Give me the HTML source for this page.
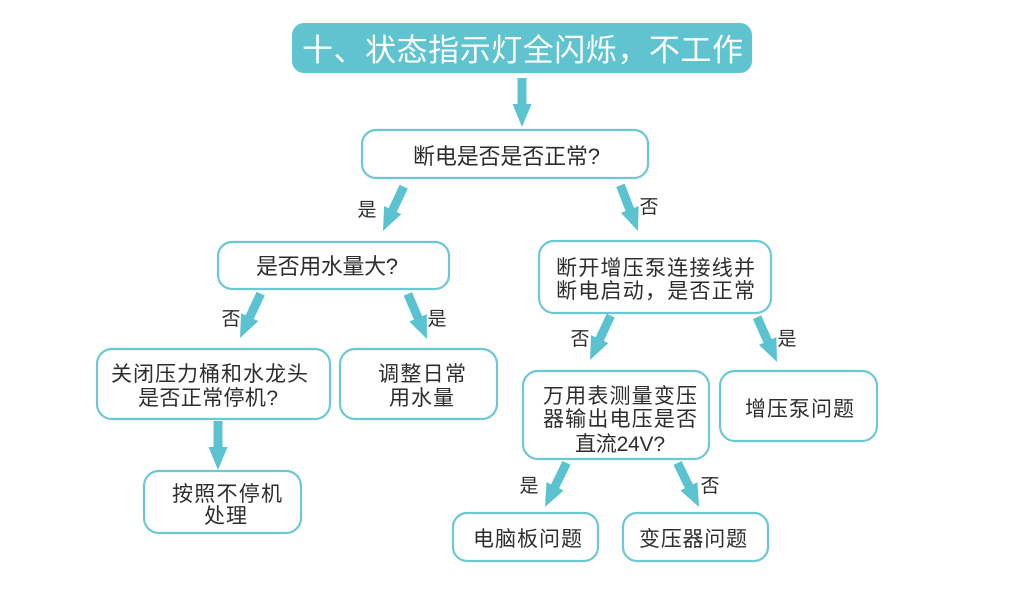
<!DOCTYPE html>
<html><head><meta charset="utf-8"><style>
html,body{margin:0;padding:0;background:#fff;}
svg{display:block;}
text{font-family:"Liberation Sans","Noto Sans CJK SC",sans-serif;fill:#2e2e2e;}
</style></head><body>
<svg width="1021" height="600" viewBox="0 0 1021 600" xmlns="http://www.w3.org/2000/svg">
<defs>
<polygon id="a49" points="-4.5,-49 4.5,-49 4.5,-23 9.5,-23 0,0 -9.5,-23 -4.5,-23" fill="#5bc3cf"/>
</defs>
<!-- title -->
<rect x="292" y="23" width="460" height="50" rx="12" fill="#5fc4cf"/>
<text x="522.5" y="61" font-size="31" text-anchor="middle" style="fill:#fff" textLength="441" lengthAdjust="spacing">十、状态指示灯全闪烁，不工作</text>

<g fill="none" stroke="#6bc8d4" stroke-width="2.2">
<rect x="362" y="130" width="286" height="48" rx="14"/>
<rect x="218" y="242" width="231" height="47" rx="14"/>
<rect x="97" y="349" width="233" height="70" rx="15"/>
<rect x="340" y="349" width="157" height="70" rx="15"/>
<rect x="144" y="471" width="157" height="62" rx="15"/>
<rect x="539" y="241" width="232" height="72" rx="15"/>
<rect x="523" y="371" width="186" height="88" rx="15"/>
<rect x="720" y="371" width="157" height="70" rx="15"/>
<rect x="453" y="513" width="145" height="48" rx="14"/>
<rect x="623" y="513" width="145" height="48" rx="14"/>
</g>

<!-- arrows -->
<use href="#a49" transform="translate(522,127)"/>
<use href="#a49" transform="translate(383,231) rotate(25)"/>
<use href="#a49" transform="translate(638,231) rotate(-21)"/>
<use href="#a49" transform="translate(240,338) rotate(25)"/>
<use href="#a49" transform="translate(427,339) rotate(-23)"/>
<use href="#a49" transform="translate(218,470)"/>
<use href="#a49" transform="translate(590,360) rotate(25)"/>
<use href="#a49" transform="translate(777,362) rotate(-24)"/>
<use href="#a49" transform="translate(545,507) rotate(26)"/>
<use href="#a49" transform="translate(699,507) rotate(-26)"/>

<!-- box text -->
<g font-size="22" text-anchor="middle">
<text x="506.5" y="164" textLength="187" lengthAdjust="spacing">断电是否是否正常?</text>
<text x="327" y="274" textLength="142" lengthAdjust="spacing">是否用水量大?</text>
<text x="209.5" y="381" font-size="21" textLength="197" lengthAdjust="spacing">关闭压力桶和水龙头</text>
<text x="208" y="405" font-size="21" textLength="140" lengthAdjust="spacing">是否正常停机?</text>
<text x="422" y="381" font-size="21" textLength="88" lengthAdjust="spacing">调整日常</text>
<text x="421.5" y="405" font-size="21" textLength="65" lengthAdjust="spacing">用水量</text>
<text x="227" y="501" font-size="21" textLength="110" lengthAdjust="spacing">按照不停机</text>
<text x="225.5" y="523" font-size="21" textLength="43" lengthAdjust="spacing">处理</text>
<text x="655.5" y="275" font-size="21" textLength="199" lengthAdjust="spacing">断开增压泵连接线并</text>
<text x="655.5" y="298" font-size="21" textLength="199" lengthAdjust="spacing">断电启动，是否正常</text>
<text x="620" y="403" font-size="21" textLength="154" lengthAdjust="spacing">万用表测量变压</text>
<text x="620" y="426" font-size="21" textLength="154" lengthAdjust="spacing">器输出电压是否</text>
<text x="620" y="451" font-size="21" textLength="90" lengthAdjust="spacing">直流24V?</text>
<text x="799.5" y="416" font-size="21" textLength="109" lengthAdjust="spacing">增压泵问题</text>
<text x="527.5" y="546" font-size="21" textLength="109" lengthAdjust="spacing">电脑板问题</text>
<text x="693" y="546" font-size="21" textLength="108" lengthAdjust="spacing">变压器问题</text>
</g>

<!-- labels -->
<g font-size="19" text-anchor="middle">
<text x="367" y="216">是</text>
<text x="649" y="213">否</text>
<text x="231" y="325">否</text>
<text x="437" y="325">是</text>
<text x="580" y="345">否</text>
<text x="787" y="345">是</text>
<text x="529" y="492">是</text>
<text x="710" y="492">否</text>
</g>
</svg>
</body></html>
